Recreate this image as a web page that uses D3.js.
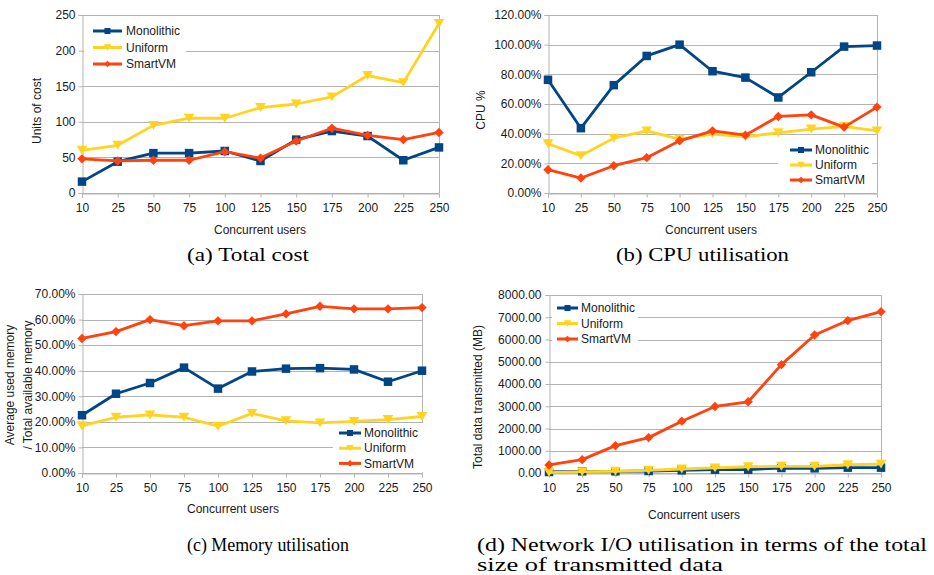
<!DOCTYPE html>
<html>
<head>
<meta charset="utf-8">
<script src="https://cdn.jsdelivr.net/npm/d3@7/dist/d3.min.js"></script>
<style>
  html, body { margin: 0; padding: 0; background: #fff; }
  svg { display: block; }
  .tick-label, .axis-title, .legend-label { font-family: "Liberation Sans", Arial, sans-serif; font-size: 12px; fill: #1a1a1a; }
  .caption { font-family: "Liberation Serif", "DejaVu Serif", serif; font-size: 19px; fill: #000; }
</style>
</head>
<body>
<svg id="chart" width="934" height="575"></svg>
<script>
// Concurrent users on the x axis (shared by all four panels)
const users = [10, 25, 50, 75, 100, 125, 150, 175, 200, 225, 250];
const seriesNames = ["Monolithic", "Uniform", "SmartVM"];

// (a) Total cost, units of cost
const costMonolithic = [16, 44, 56, 56, 59, 45, 75, 87, 80, 46, 64];
const costUniform    = [60, 67, 95, 105, 105, 120, 125, 135, 165, 155, 238];
const costSmartVM    = [48, 45, 46, 46, 58, 49, 73, 91, 81, 75, 85];

// (b) CPU utilisation, percent
const cpuMonolithic = [76.3, 43.7, 72.7, 92.4, 100.0, 82.1, 77.8, 64.4, 81.4, 98.7, 99.4];
const cpuUniform    = [33.2, 25.1, 37.0, 41.9, 36.3, 39.7, 37.9, 40.6, 43.1, 44.9, 41.9];
const cpuSmartVM    = [15.7, 10.1, 18.4, 23.8, 35.2, 41.9, 39.0, 51.6, 52.7, 44.4, 57.9];

// (c) Memory utilisation, percent of total available memory
const memMonolithic = [22.6, 31.0, 35.2, 41.2, 33.0, 39.7, 40.8, 41.0, 40.5, 35.7, 40.0];
const memUniform    = [18.4, 21.8, 22.7, 21.8, 18.3, 23.3, 20.4, 19.6, 20.2, 20.9, 22.1];
const memSmartVM    = [52.6, 55.3, 60.0, 57.6, 59.5, 59.5, 62.2, 65.2, 64.2, 64.2, 64.7];

// (d) Network I/O, total data transmitted (MB)
const netMonolithic = [45, 75, 75, 90, 120, 150, 150, 225, 210, 240, 240];
const netUniform    = [20, 60, 75, 120, 180, 230, 280, 300, 300, 370, 400];
const netSmartVM    = [360, 600, 1230, 1590, 2330, 2990, 3200, 4870, 6200, 6850, 7250];

// Y-axis ticks per panel
const costTicks = [0, 50, 100, 150, 200, 250];
const cpuTicks  = [0, 20, 40, 60, 80, 100, 120];
const memTicks  = [0, 10, 20, 30, 40, 50, 60, 70];
const netTicks  = [0, 1000, 2000, 3000, 4000, 5000, 6000, 7000, 8000];

const colors = { "Monolithic": "#004586", "Uniform": "#ffd320", "SmartVM": "#ff420e" };
const svg = d3.select("#chart");

// Marker shapes: square, downward triangle, diamond
function markerPath(name, s) {
  if (name === "Monolithic") {
    return `M${-s/2},${-s/2}H${s/2}V${s/2}H${-s/2}Z`;
  } else if (name === "Uniform") {
    const w = s * 1.25, h = s * 1.05;
    return `M${-w/2},${-h/2}H${w/2}L0,${h/2}Z`;
  } else {
    const r = s * 0.55;
    return `M0,${-r}L${r},0L0,${r}L${-r},0Z`;
  }
}

function drawPanel(p) {
  const g = svg.append("g");
  const x = d3.scalePoint().domain(users).range([p.left, p.right]).padding(0);
  const y = d3.scaleLinear().domain([0, d3.max(p.ticks)]).range([p.bottom, p.top]);

  // Horizontal gridlines
  g.selectAll(".grid").data(p.ticks).join("line")
    .attr("x1", p.left).attr("x2", p.right)
    .attr("y1", d => Math.round(y(d)) + 0.5).attr("y2", d => Math.round(y(d)) + 0.5)
    .attr("stroke", "#b3b3b3").attr("stroke-width", 1);

  // Right border of the plot area
  g.append("line")
    .attr("x1", Math.round(p.right) + 0.5).attr("x2", Math.round(p.right) + 0.5)
    .attr("y1", p.top).attr("y2", p.bottom)
    .attr("stroke", "#b3b3b3");

  // Y axis
  const yAxis = d3.axisLeft(y).tickValues(p.ticks).tickSize(4).tickPadding(p.yPad).tickFormat(p.fmt);
  const ya = g.append("g").attr("transform", `translate(${Math.round(p.left) + 0.5},0)`).call(yAxis);
  ya.select(".domain").attr("stroke", "#b3b3b3");
  ya.selectAll(".tick line").attr("stroke", "#b3b3b3");
  ya.selectAll(".tick text").attr("class", "tick-label").attr("font-family", null).attr("font-size", null).attr("fill", null);

  // X axis
  const xAxis = d3.axisBottom(x).tickSize(4).tickPadding(6);
  const xa = g.append("g").attr("transform", `translate(0,${Math.round(p.bottom) + 0.5})`).call(xAxis);
  xa.select(".domain").attr("stroke", "#b3b3b3");
  xa.selectAll(".tick line").attr("stroke", "#b3b3b3");
  xa.selectAll(".tick text").attr("class", "tick-label").attr("font-family", null).attr("font-size", null).attr("fill", null);

  // Legend background
  const L = p.legend;
  g.append("rect").attr("x", L.x).attr("y", L.y).attr("width", L.w).attr("height", L.h).attr("fill", "#fff");

  // Series lines and markers
  const line = d3.line().x((d, i) => x(users[i])).y(d => y(d));
  p.series.forEach((vals, k) => {
    const name = seriesNames[k];
    g.append("path").datum(vals)
      .attr("d", line).attr("fill", "none")
      .attr("stroke", colors[name]).attr("stroke-width", 2.8).attr("stroke-linejoin", "round");
    g.selectAll(null).data(vals).join("path")
      .attr("transform", (d, i) => `translate(${x(users[i])},${y(d)})`)
      .attr("d", markerPath(name, 8.5))
      .attr("fill", colors[name]);
  });

  // Legend entries
  const lg = g.append("g");
  seriesNames.forEach((name, k) => {
    const cy = L.rowY + k * L.rowGap;
    lg.append("line").attr("x1", L.sx0).attr("x2", L.sx1).attr("y1", cy).attr("y2", cy)
      .attr("stroke", colors[name]).attr("stroke-width", 3);
    lg.append("path").attr("transform", `translate(${(L.sx0 + L.sx1) / 2},${cy})`)
      .attr("d", markerPath(name, 6)).attr("fill", colors[name]);
    lg.append("text").attr("class", "legend-label").attr("x", L.tx).attr("y", cy).attr("dy", "0.35em").text(name);
  });

  // Axis titles
  g.append("text").attr("class", "axis-title").attr("text-anchor", "middle")
    .attr("x", p.xTitle[0]).attr("y", p.xTitle[1]).text("Concurrent users");
  p.yTitle.forEach(t => {
    g.append("text").attr("class", "axis-title").attr("text-anchor", "middle")
      .attr("transform", `translate(${t.x},${t.y}) rotate(-90)`).attr("dy", "0.35em").text(t.text);
  });

  // Caption lines (set to the caption's full typeset width)
  p.caption.forEach(c => {
    g.append("text").attr("class", "caption")
      .attr("x", c.x).attr("y", c.y)
      .attr("textLength", c.w).attr("lengthAdjust", "spacingAndGlyphs")
      .text(c.text);
  });
}

const pct = d => d.toFixed(2) + "%";

drawPanel({
  left: 82, right: 439, top: 15, bottom: 193,
  ticks: costTicks, fmt: d => String(d), yPad: 3,
  series: [costMonolithic, costUniform, costSmartVM],
  legend: { x: 84, y: 21, w: 102, h: 52, rowY: 31, rowGap: 16.5, sx0: 93, sx1: 122, tx: 126 },
  xTitle: [260, 234],
  yTitle: [{ x: 37, y: 111, text: "Units of cost" }],
  caption: [{ x: 187, y: 261, w: 122, text: "(a) Total cost" }]
});

drawPanel({
  left: 548, right: 877, top: 15, bottom: 193,
  ticks: cpuTicks, fmt: pct, yPad: 3,
  series: [cpuMonolithic, cpuUniform, cpuSmartVM],
  legend: { x: 778, y: 140, w: 94, h: 50, rowY: 150, rowGap: 15, sx0: 790, sx1: 812, tx: 815 },
  xTitle: [711, 234],
  yTitle: [{ x: 481, y: 110, text: "CPU %" }],
  caption: [{ x: 616, y: 261, w: 173, text: "(b) CPU utilisation" }]
});

drawPanel({
  left: 82, right: 422, top: 294, bottom: 473,
  ticks: memTicks, fmt: pct, yPad: 3,
  series: [memMonolithic, memUniform, memSmartVM],
  legend: { x: 333, y: 423, w: 92, h: 49, rowY: 433, rowGap: 15.2, sx0: 339, sx1: 361, tx: 364 },
  xTitle: [233, 513],
  yTitle: [{ x: 10, y: 385, text: "Average used memory" }, { x: 28, y: 385, text: "/ Total available memory" }],
  caption: [{ x: 187, y: 551, w: 162, text: "(c) Memory utilisation" }]
});

drawPanel({
  left: 549, right: 881, top: 295, bottom: 473,
  ticks: netTicks, fmt: d => d.toFixed(2), yPad: 4,
  series: [netMonolithic, netUniform, netSmartVM],
  legend: { x: 552, y: 299, w: 86, h: 49, rowY: 308, rowGap: 15.5, sx0: 557, sx1: 578, tx: 581 },
  xTitle: [694, 519],
  yTitle: [{ x: 478, y: 397, text: "Total data transmitted (MB)" }],
  caption: [
    { x: 477, y: 551, w: 450, text: "(d) Network I/O utilisation in terms of the total" },
    { x: 477, y: 571, w: 246, text: "size of transmitted data" }
  ]
});
</script>
</body>
</html>
